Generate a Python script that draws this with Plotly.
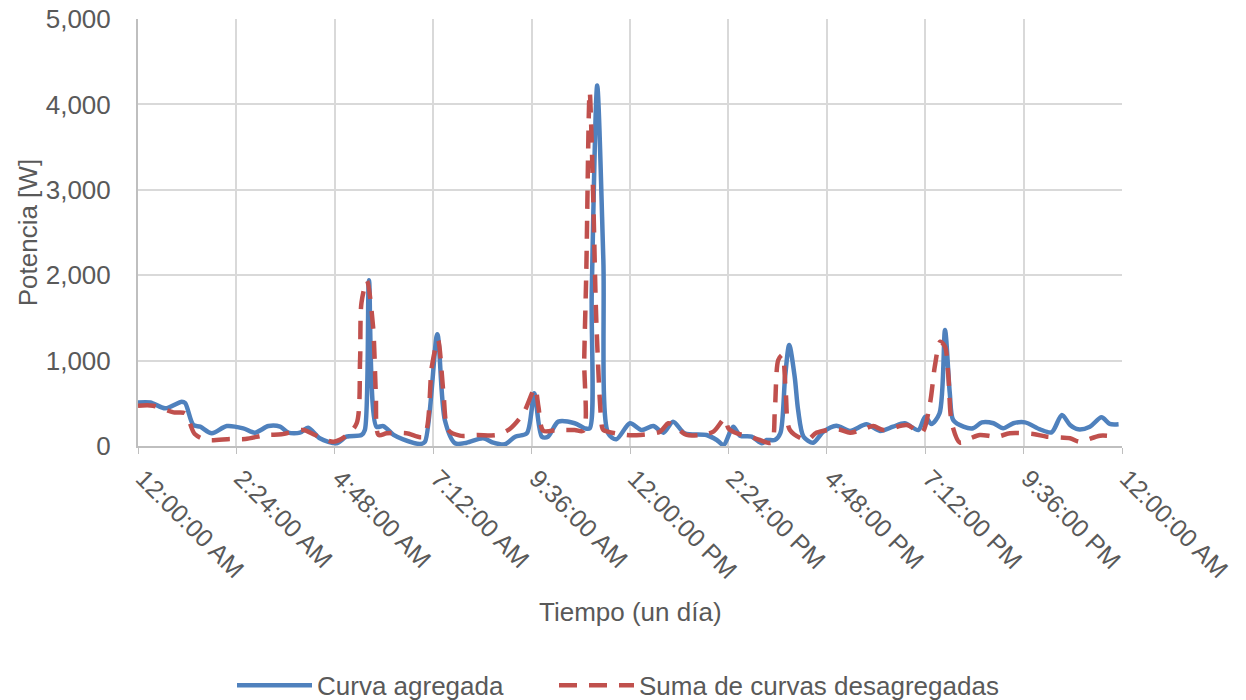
import plotly.graph_objects as go

# Time in minutes from midnight
agg_t = [0, 18, 40, 64, 69, 81, 91, 108, 130, 154, 171, 191, 208, 220, 237, 249, 266, 291, 305, 327,
         332, 338, 349, 359, 374, 388, 413, 420, 438, 449, 464, 481, 505, 520, 537, 552, 569, 580, 591,
         600, 615, 639, 654, 661, 664, 672, 681, 688, 700, 720, 737, 754, 769, 783, 800, 832, 847, 857,
         871, 881, 898, 913, 920, 932, 940, 947, 953, 961, 966, 974, 988, 1003, 1022, 1042, 1066, 1086,
         1105, 1122, 1142, 1152, 1161, 1173, 1181, 1188, 1193, 1208, 1222, 1235, 1252, 1266, 1281, 1298,
         1320, 1337, 1352, 1364, 1376, 1393, 1410, 1422, 1435]
agg_v = [510, 510, 441, 519, 503, 246, 226, 149, 234, 207, 156, 234, 226, 156, 156, 214, 90, 32, 109, 129,
         187, 1940, 226, 234, 129, 78, 23, 50, 1310, 304, 32, 39, 90, 39, 20, 109, 149, 617, 109,
         109, 285, 266, 207, 207, 1791, 4220, 2178, 149, 78, 266, 187, 234, 156, 285, 149, 129, 70, 12,
         226, 121, 109, 32, 70, 70, 149, 811, 1183, 811, 422, 109, 39, 168, 238, 176, 254, 176,
         226, 266, 187, 343, 258, 383, 1358, 617, 304, 226, 207, 277, 266, 207, 266, 277,
         195, 160, 363, 246, 195, 226, 336, 258, 254]

des_t = [0, 22, 52, 69, 83, 101, 135, 157, 188, 210, 242, 259, 286, 305, 320, 325, 327, 335, 344, 348,
         352, 364, 393, 418, 430, 439, 447, 454, 471, 496, 525, 544, 564, 581, 586, 593, 613, 639, 652,
         653, 656, 661, 666, 671, 679, 681, 715, 735, 764, 776, 783, 803, 822, 842, 859, 864, 876, 896,
         910, 927, 932, 937, 943, 948, 954, 979, 993, 1025, 1042, 1061, 1076, 1091, 1125, 1147, 1159, 1166,
         1174, 1181, 1186, 1191, 1203, 1218, 1232, 1257, 1276, 1310, 1330, 1364, 1378, 1408, 1432]
des_v = [472, 472, 394, 383, 140, 70, 82, 82, 129, 137, 187, 129, 50, 121, 266, 1007, 1675, 1936, 1397, 620,
         129, 149, 149, 109, 929, 1241, 617, 187, 121, 129, 129, 199, 383, 676, 460, 179, 187, 187, 179,
         1007, 2026, 4149, 2963, 1397, 226, 187, 129, 129, 168, 266, 246, 129, 129, 168, 324, 207, 149, 109,
         70, 39, 422, 1007, 1066, 617, 187, 70, 156, 195, 156, 195, 234, 187, 246, 156, 500, 929,
         1221, 1163, 811, 266, 39, 90, 129, 109, 149, 140, 109, 90, 50, 121, 109]

tick_vals = [0, 144, 288, 432, 576, 720, 864, 1008, 1152, 1296, 1440]
tick_text = ["12:00:00 AM", "2:24:00 AM", "4:48:00 AM", "7:12:00 AM", "9:36:00 AM", "12:00:00 PM",
             "2:24:00 PM", "4:48:00 PM", "7:12:00 PM", "9:36:00 PM", "12:00:00 AM"]

FONT = "Liberation Sans, Arial, sans-serif"
GREY = "#595959"

fig = go.Figure()
fig.add_trace(go.Scatter(x=agg_t, y=agg_v, mode="lines", name="Curva agregada", legend="legend",
                         line=dict(color="#4F81BD", width=4.5, shape="spline", smoothing=0.8)))
fig.add_trace(go.Scatter(x=des_t, y=des_v, mode="lines", name="Suma de curvas desagregadas", legend="legend2",
                         line=dict(color="#C0504D", width=4.5, dash="18px,12px", shape="spline", smoothing=0.8)))

leg_common = dict(orientation="h", yref="container", y=0.021, yanchor="middle", xanchor="left",
                  font=dict(size=26, color=GREY), itemwidth=75, bgcolor="rgba(0,0,0,0)")

fig.update_layout(
    width=1246, height=700,
    margin=dict(l=138, r=124, t=19, b=254, autoexpand=False),
    paper_bgcolor="white", plot_bgcolor="white",
    font=dict(family=FONT, size=26, color=GREY),
    showlegend=True,
    legend=dict(x=(238 - 138 - 6) / 984, **leg_common),
    legend2=dict(x=(560 - 138 - 6) / 984, **leg_common),
    xaxis=dict(range=[0, 1440], tickvals=tick_vals, ticktext=tick_text, tickangle=45,
               showgrid=True, gridcolor="#D9D9D9", gridwidth=2,
               showline=True, linecolor="#BFBFBF", linewidth=2,
               ticks="outside", ticklen=6, tickcolor="#BFBFBF", automargin=False,
               ticklabelshift=5,
               zeroline=False, tickfont=dict(size=25, color=GREY)),
    yaxis=dict(range=[0, 5000], tickvals=[0, 1000, 2000, 3000, 4000, 5000], tickformat=",d",
               showgrid=True, gridcolor="#D9D9D9", gridwidth=2,
               showline=True, linecolor="#BFBFBF", linewidth=2, automargin=False,
               zeroline=False, ticklabelstandoff=20, tickfont=dict(size=26, color=GREY)),
    annotations=[
        dict(text="Tiempo (un día)", xref="paper", yref="paper", x=0.5, y=-0.389,
             xanchor="center", yanchor="middle", showarrow=False, font=dict(size=26, color=GREY)),
        dict(text="Potencia [W]", xref="paper", yref="paper", x=-0.112, y=0.5, textangle=-90,
             xanchor="center", yanchor="middle", showarrow=False, font=dict(size=26, color=GREY)),
    ],
)

fig.write_html("out.html")
